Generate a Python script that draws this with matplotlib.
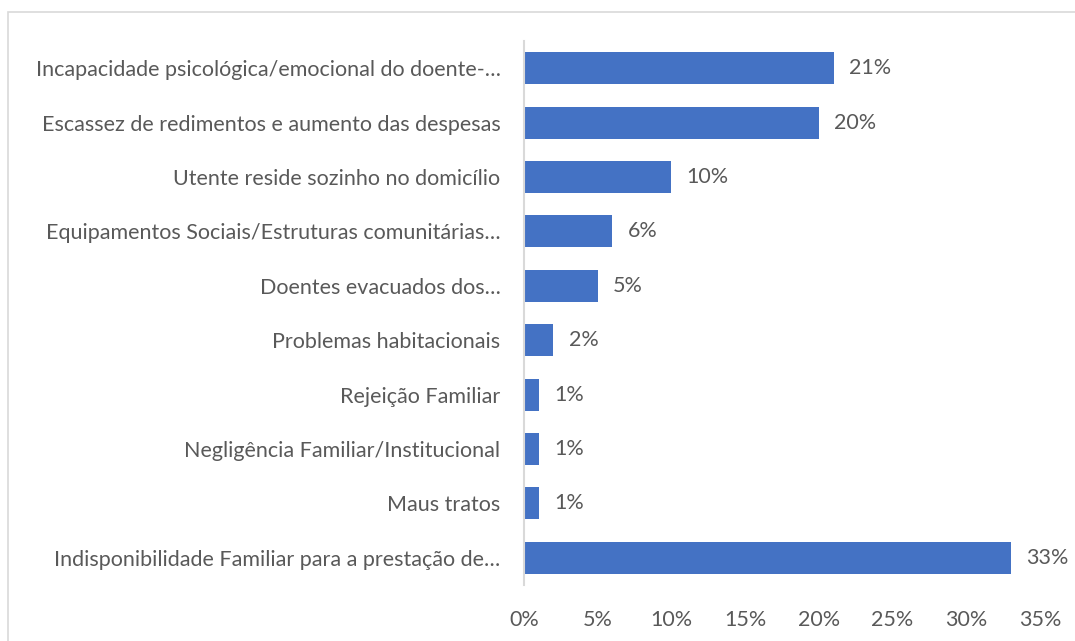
import matplotlib.pyplot as plt
from matplotlib.patches import Rectangle
from matplotlib.ticker import FuncFormatter

categories = [
    "Incapacidade psicológica/emocional do doente-…",
    "Escassez de redimentos e aumento das despesas",
    "Utente reside sozinho no domicílio",
    "Equipamentos Sociais/Estruturas comunitárias…",
    "Doentes evacuados dos…",
    "Problemas habitacionais",
    "Rejeição Familiar",
    "Negligência Familiar/Institucional",
    "Maus tratos",
    "Indisponibilidade Familiar para a prestação de…",
]
values = [21, 20, 10, 6, 5, 2, 1, 1, 1, 33]
xticks = [0, 5, 10, 15, 20, 25, 30, 35]

plt.rcParams['font.family'] = ['Lato', 'DejaVu Sans']
grey = '#595959'

fig = plt.figure(figsize=(10.75, 6.41), dpi=100)
ax = fig.add_axes([524 / 1075, 1 - 585 / 641, (1040 - 524) / 1075, (585 - 41) / 641])

pos = range(len(categories))
ax.barh(pos, values, height=0.59, color='#4472C4')
ax.set_yticks(list(pos))
ax.set_yticklabels(categories)
ax.invert_yaxis()
ax.set_ylim(len(categories) - 0.5, -0.5)

ax.set_xlim(0, 35)
ax.set_xticks(xticks)
ax.xaxis.set_major_formatter(FuncFormatter(lambda v, p: f"{v:.0f}%"))

for i, v in enumerate(values):
    ax.annotate(f"{v}%", (v, i), xytext=(11, 0), textcoords='offset points',
                va='center', ha='left', fontsize=15.5, color=grey)

for s in ['top', 'right', 'bottom']:
    ax.spines[s].set_visible(False)
ax.spines['left'].set_color('#d9d9d9')
ax.spines['left'].set_linewidth(1.5)
ax.tick_params(axis='both', length=0, labelsize=15.5, colors=grey)
ax.tick_params(axis='y', pad=17)
ax.tick_params(axis='x', pad=18)

fig.patches.append(Rectangle((8 / 1075, -0.05), 1.1, 1 - 12 / 641 + 0.05,
                             transform=fig.transFigure, fill=False,
                             edgecolor='#d9d9d9', linewidth=1.2))

fig.savefig('out.png', dpi=100)
